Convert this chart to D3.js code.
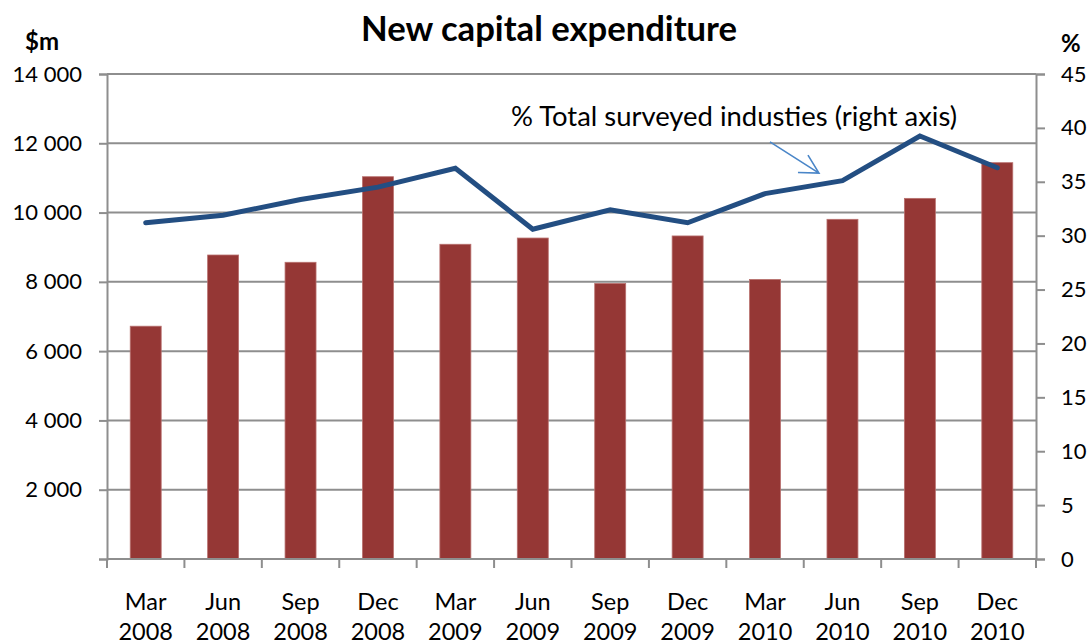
<!DOCTYPE html>
<html>
<head>
<meta charset="utf-8">
<script src="https://cdn.jsdelivr.net/npm/d3@7"></script>
<style>
  body { margin: 0; background: #fff; }
  text { font-family: Lato, "Open Sans", "DejaVu Sans", sans-serif; fill: #000; }
</style>
</head>
<body>
<svg id="chart" width="1091" height="644"></svg>
<script>
// Quarterly new capital expenditure ($m) and share of total surveyed industries (%)
const quarters = ["Mar 2008", "Jun 2008", "Sep 2008", "Dec 2008",
                  "Mar 2009", "Jun 2009", "Sep 2009", "Dec 2009",
                  "Mar 2010", "Jun 2010", "Sep 2010", "Dec 2010"];
const capex = [6720, 8775, 8565, 11035, 9085, 9265, 7955, 9325, 8070, 9805, 10410, 11440];
const sharePct = [31.2, 31.9, 33.35, 34.5, 36.25, 30.6, 32.4, 31.2, 33.9, 35.1, 39.25, 36.3];
const leftTicks = [0, 2000, 4000, 6000, 8000, 10000, 12000, 14000];
const rightTicks = [0, 5, 10, 15, 20, 25, 30, 35, 40, 45];

const title = "New capital expenditure";
const leftUnit = "$m";
const rightUnit = "%";
const lineNote = "% Total surveyed industies (right axis)";

const svg = d3.select("#chart");
const m = { left: 107, right: 1036, top: 74, bottom: 559 };

const x = d3.scaleBand().domain(quarters).range([m.left, m.right]).padding(0);
const yL = d3.scaleLinear().domain([0, 14000]).range([m.bottom, m.top]);
const yR = d3.scaleLinear().domain([0, 45]).range([m.bottom, m.top]);

const fmt = d3.formatLocale({ decimal: ".", thousands: " ", grouping: [3], currency: ["", ""] }).format(",d");
const axisGrey = "#8e8e8e";

// Horizontal gridlines from the left axis
svg.append("g")
  .selectAll("line")
  .data(leftTicks.filter(d => d > 0))
  .join("line")
  .attr("x1", m.left).attr("x2", m.right)
  .attr("y1", d => yL(d)).attr("y2", d => yL(d))
  .attr("stroke", axisGrey).attr("stroke-width", 2);

// Bars
const bw = x.bandwidth();
svg.append("g")
  .selectAll("rect")
  .data(quarters.map((q, i) => ({ q, v: capex[i] })))
  .join("rect")
  .attr("x", d => x(d.q) + bw * 0.3)
  .attr("width", bw * 0.4)
  .attr("y", d => yL(d.v))
  .attr("height", d => yL(0) - yL(d.v))
  .attr("fill", "#953735")
  .attr("stroke", "#b8706e")
  .attr("stroke-width", 0.8);

// Left axis
const gL = svg.append("g").attr("transform", `translate(${m.left},0)`)
  .call(d3.axisLeft(yL).tickValues(leftTicks).tickSize(8).tickPadding(17)
    .tickFormat(d => d === 0 ? "" : fmt(d)));
gL.select(".domain").attr("stroke", axisGrey).attr("stroke-width", 2);
gL.selectAll(".tick line").attr("stroke", axisGrey).attr("stroke-width", 2);
gL.selectAll(".tick text").style("font-size", "22px").attr("fill", "#000");

// Right axis
const gR = svg.append("g").attr("transform", `translate(${m.right},0)`)
  .call(d3.axisRight(yR).tickValues(rightTicks).tickSize(9).tickPadding(16));
gR.select(".domain").attr("stroke", axisGrey).attr("stroke-width", 2);
gR.selectAll(".tick line").attr("stroke", axisGrey).attr("stroke-width", 2);
gR.selectAll(".tick text").style("font-size", "22px").attr("fill", "#000");

// Category axis: ticks on band boundaries, two-line labels
const boundaries = quarters.map(q => x(q)).concat([m.right]);
svg.append("line")
  .attr("x1", m.left).attr("x2", m.right)
  .attr("y1", m.bottom).attr("y2", m.bottom)
  .attr("stroke", axisGrey).attr("stroke-width", 2);
svg.append("g").selectAll("line")
  .data(boundaries)
  .join("line")
  .attr("x1", d => d).attr("x2", d => d)
  .attr("y1", m.bottom).attr("y2", m.bottom + 9)
  .attr("stroke", axisGrey).attr("stroke-width", 2);
const xl = svg.append("g").selectAll("text")
  .data(quarters)
  .join("text")
  .attr("text-anchor", "middle")
  .style("font-size", "23.5px");
xl.append("tspan")
  .attr("x", d => x(d) + bw / 2).attr("y", 610)
  .text(d => d.split(" ")[0]);
xl.append("tspan")
  .attr("x", d => x(d) + bw / 2).attr("y", 640)
  .text(d => d.split(" ")[1]);

// Share line (right axis)
const line = d3.line()
  .x((d, i) => x(quarters[i]) + bw / 2)
  .y(d => yR(d));
svg.append("path")
  .datum(sharePct)
  .attr("d", line)
  .attr("fill", "none")
  .attr("stroke", "#234e82")
  .attr("stroke-width", 5)
  .attr("stroke-linejoin", "miter")
  .attr("stroke-linecap", "round");

// Annotation for the line
const anchorX = x("Jun 2010") + bw / 2;
const tip = [anchorX - 23.5, yR(35.8)];
const tail = [anchorX - 72.5, yR(38.7)];
svg.append("text")
  .attr("x", 511).attr("y", 126)
  .attr("textLength", 446).attr("lengthAdjust", "spacingAndGlyphs")
  .style("font-size", "26px")
  .text(lineNote);
svg.append("path")
  .attr("d", `M${tail[0]},${tail[1]}L${tip[0]},${tip[1]}` +
             `M${tip[0] - 21},${tip[1] - 0.7}L${tip[0]},${tip[1]}L${tip[0] - 11},${tip[1] - 18}`)
  .attr("fill", "none")
  .attr("stroke", "#4a86c8")
  .attr("stroke-width", 1.6);

// Title and unit labels
svg.append("text")
  .attr("x", 549).attr("y", 41)
  .attr("text-anchor", "middle")
  .attr("textLength", 376).attr("lengthAdjust", "spacingAndGlyphs")
  .style("font-size", "35px").style("font-weight", "bold")
  .text(title);
svg.append("text")
  .attr("x", 25).attr("y", 50)
  .style("font-size", "24px").style("font-weight", "bold")
  .text(leftUnit);
svg.append("text")
  .attr("x", 1061).attr("y", 52)
  .style("font-size", "24px").style("font-weight", "bold")
  .text(rightUnit);
</script>
</body>
</html>
